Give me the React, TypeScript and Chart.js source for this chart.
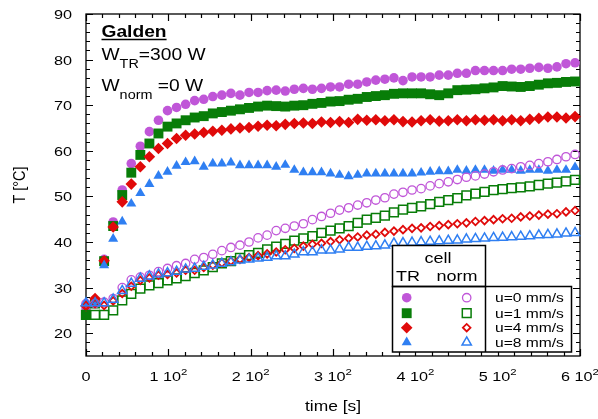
import React, { useEffect, useRef } from 'react';
import { Chart, registerables } from 'chart.js';

Chart.register(...registerables);

// ---------- data ----------
const times = [0, 11, 22, 33, 44, 55, 66, 77, 88, 99, 110, 121, 132, 143, 154, 165, 176, 187, 198, 209, 220, 231, 242, 253, 264, 275, 286, 297, 308, 319, 330, 341, 352, 363, 374, 385, 396, 407, 418, 429, 440, 451, 462, 473, 484, 495, 506, 517, 528, 539, 550, 561, 572, 583, 594];

const trU0 = [25.5, 27.0, 36.2, 44.4, 51.4, 57.2, 61.0, 64.2, 66.7, 68.8, 69.5, 70.2, 71.0, 71.3, 71.9,
  72.2, 72.6, 72.2, 72.8, 72.8, 73.2, 73.3, 73.1, 73.5, 73.7, 73.5, 73.7, 74.0, 74.0, 74.6, 74.6, 75.1, 75.5, 75.7,
  76.0, 75.4, 76.2, 76.2, 76.2, 76.6, 76.6, 77.0, 77.0, 77.6, 77.6, 77.6, 77.6, 77.9, 77.9, 78.1, 78.3, 78.1, 78.4, 79.1, 79.3];
const trU1 = [24.0, 26.5, 35.8, 43.5, 50.3, 55.2, 59.1, 61.6, 63.8, 65.3, 66.0, 66.7, 67.3, 67.6, 68.2,
  68.5, 68.8, 69.1, 69.4, 69.7, 69.9, 69.8, 69.7, 69.9, 70.0, 70.3, 70.5, 70.8, 70.9, 71.2, 71.4, 71.8, 72.0, 72.2, 72.5,
  72.6, 72.6, 72.6, 72.4, 72.2, 72.6, 73.3, 73.4, 73.5, 73.7, 73.9, 74.2, 74.1, 74.0, 74.2, 74.5, 74.8, 74.9, 75.1, 75.2];
const trU4 = [26.0, 27.6, 35.9, 43.3, 48.8, 52.7, 56.5, 58.7, 60.5, 61.6, 62.7, 63.4, 63.7, 64.0, 64.3,
  64.5, 64.8, 65.0, 65.1, 65.4, 65.6, 65.5, 65.8, 66.0, 66.1, 66.0, 66.3, 66.2, 66.4, 66.2, 66.9, 66.7, 66.8, 66.6, 66.8,
  66.4, 66.3, 66.6, 66.8, 66.5, 66.6, 66.8, 66.6, 66.8, 66.7, 66.8, 66.6, 66.8, 66.6, 66.9, 67.1, 67.4, 67.4, 67.2, 67.5];
const trU8 = [26.5, 26.4, 34.9, 40.7, 44.5, 48.4, 50.7, 52.7, 54.5, 55.4, 56.7, 57.5, 57.7, 56.5, 57.2,
  57.2, 57.4, 56.8, 56.8, 56.8, 56.8, 56.5, 56.9, 55.8, 55.3, 55.3, 55.3, 55.0, 54.7, 54.4, 54.7, 55.0, 55.0, 55.0, 55.0,
  55.0, 55.0, 55.2, 55.4, 55.5, 55.5, 55.8, 55.6, 55.8, 55.8, 55.6, 55.8, 55.8, 55.6, 55.8, 55.8, 55.6, 55.8, 55.8, 56.4];

const normU0 = [26.5, 26.5, 26.8, 27.6, 30.0, 31.7, 32.3, 32.7, 33.5, 34.2, 34.8, 35.3, 36.2,
  36.6, 37.3, 38.1, 38.8, 39.3, 40.0, 40.9, 41.5, 42.5, 43.0, 43.5, 44.0, 44.9, 45.6, 46.3, 47.0, 47.5, 48.1, 48.6, 49.2, 49.7, 50.5,
  50.9, 51.4, 51.7, 52.3, 52.8, 53.2, 53.7, 54.2, 54.5, 54.9, 55.4, 55.8, 56.1, 56.5, 56.8, 57.2, 57.6, 58.1, 58.7, 59.2];
const normU1 = [24.0, 24.0, 24.0, 25.0, 27.2, 28.6, 29.8, 30.5, 31.0, 31.6, 32.0, 32.5, 33.2,
  33.8, 34.5, 35.3, 35.8, 36.5, 37.1, 37.6, 38.4, 39.0, 39.6, 40.3, 40.8, 41.3, 42.0, 42.5, 43.0, 43.5, 44.2, 44.9, 45.3, 45.8, 46.5,
  47.1, 47.5, 47.8, 48.3, 48.8, 49.2, 49.6, 50.2, 50.6, 51.0, 51.4, 51.6, 51.8, 52.0, 52.2, 52.5, 52.8, 53.0, 53.3, 53.6];
const normU4 = [26.1, 26.5, 26.1, 27.1, 28.7, 30.3, 31.6, 32.1, 32.7, 32.9, 33.2, 33.8, 33.8,
  34.4, 34.9, 35.4, 35.8, 36.2, 36.6, 37.0, 37.4, 37.8, 38.3, 38.6, 39.1, 39.5, 39.7, 40.1, 40.5, 40.8, 41.1, 41.5, 41.7, 42.1, 42.4,
  42.7, 43.0, 43.1, 43.4, 43.6, 43.8, 44.0, 44.2, 44.5, 44.7, 44.9, 45.1, 45.2, 45.5, 45.7, 45.9, 46.1, 46.2, 46.6, 46.9];
const normU8 = [26.6, 26.6, 26.6, 27.4, 29.3, 30.9, 32.0, 32.5, 32.9, 33.2, 33.5, 34.0, 34.2, 34.6, 34.9,
  35.3, 35.6, 36.0, 36.2, 36.4, 36.6, 36.9, 36.9, 37.3, 37.8, 37.8, 38.2, 38.2, 38.4, 38.8, 38.8, 39.0, 39.1, 39.3, 39.7,
  39.8, 39.9, 40.0, 40.1, 40.2, 40.3, 40.4, 40.6, 40.7, 40.8, 40.9, 41.0, 41.1, 41.2, 41.3, 41.5, 41.6, 41.7, 41.9, 42.0];

const xTickValues = [0, 100, 200, 300, 400, 500, 600];
const xTickLabels = ['0', '1 10²', '2 10²', '3 10²', '4 10²', '5 10²', '6 10²'];
const yTickValues = [20, 30, 40, 50, 60, 70, 80, 90];
const yTickLabels = ['20', '30', '40', '50', '60', '70', '80', '90'];
const legendLabels = ['u=0 mm/s', 'u=1 mm/s', 'u=4 mm/s', 'u=8 mm/s'];

// ---------- styles ----------
const PURPLE = '#c056d8';
const GREEN = '#087d08';
const RED = '#e00a0a';
const BLUE = '#2f7ff2';
const FONT = '"Liberation Sans", Arial, Helvetica, sans-serif';
const SX = 1.2; // horizontal text stretch of the reference

type Mk = { style: string; r: number; color: string; filled: boolean; lw: number };
const trMarkers: Mk[] = [
  { style: 'circle', r: 4.8, color: PURPLE, filled: true, lw: 0 },
  { style: 'rect', r: 7, color: GREEN, filled: true, lw: 0 },
  { style: 'rectRot', r: 5.8, color: RED, filled: true, lw: 0 },
  { style: 'triangle', r: 5.8, color: BLUE, filled: true, lw: 0 },
];
const normMarkers: Mk[] = [
  { style: 'circle', r: 4.2, color: PURPLE, filled: false, lw: 1.3 },
  { style: 'rect', r: 6.2, color: GREEN, filled: false, lw: 1.5 },
  { style: 'rectRot', r: 3.8, color: RED, filled: false, lw: 1.8 },
  { style: 'triangle', r: 5.4, color: BLUE, filled: false, lw: 1.5 },
];

function drawMarker(ctx: CanvasRenderingContext2D, m: Mk, x: number, y: number) {
  const r = m.r;
  ctx.beginPath();
  if (m.style === 'circle') {
    ctx.arc(x, y, r, 0, Math.PI * 2);
  } else if (m.style === 'rect') {
    const s = r * Math.SQRT1_2;
    ctx.rect(x - s, y - s, 2 * s, 2 * s);
  } else if (m.style === 'rectRot') {
    ctx.moveTo(x - r, y);
    ctx.lineTo(x, y - r);
    ctx.lineTo(x + r, y);
    ctx.lineTo(x, y + r);
    ctx.closePath();
  } else {
    ctx.moveTo(x, y - r);
    ctx.lineTo(x + r * Math.sin((2 * Math.PI) / 3), y - r * Math.cos((2 * Math.PI) / 3));
    ctx.lineTo(x - r * Math.sin((2 * Math.PI) / 3), y - r * Math.cos((2 * Math.PI) / 3));
    ctx.closePath();
  }
  if (m.filled) {
    ctx.fillStyle = m.color;
    ctx.fill();
  } else {
    ctx.strokeStyle = m.color;
    ctx.lineWidth = m.lw;
    ctx.stroke();
  }
}

function text(ctx: CanvasRenderingContext2D, s: string, x: number, y: number, size: number, align: 'left' | 'center' | 'right' = 'left', bold = false) {
  ctx.save();
  ctx.font = `${bold ? 'bold ' : ''}${size}px ${FONT}`;
  const w = ctx.measureText(s).width * SX;
  let x0 = x;
  if (align === 'center') x0 = x - w / 2;
  if (align === 'right') x0 = x - w;
  ctx.translate(x0, y);
  ctx.scale(SX, 1);
  ctx.textAlign = 'left';
  ctx.textBaseline = 'alphabetic';
  ctx.fillStyle = '#000';
  ctx.fillText(s, 0, 0);
  ctx.restore();
  return w;
}

function width(ctx: CanvasRenderingContext2D, s: string, size: number, bold = false) {
  ctx.save();
  ctx.font = `${bold ? 'bold ' : ''}${size}px ${FONT}`;
  const w = ctx.measureText(s).width * SX;
  ctx.restore();
  return w;
}

const framePlugin = {
  id: 'frameTicks',
  beforeDatasetsDraw(chart: any) {
    const ctx: CanvasRenderingContext2D = chart.ctx;
    const { left, right, top, bottom } = chart.chartArea;
    const xs = chart.scales.x;
    const ys = chart.scales.y;
    ctx.save();
    ctx.strokeStyle = '#000';
    ctx.lineWidth = 1.3;
    ctx.strokeRect(left, top, right - left, bottom - top);
    ctx.lineWidth = 1.2;
    ctx.beginPath();
    for (let v = 0; v <= 600; v += 20) {
      const px = Math.round(xs.getPixelForValue(v)) + 0.5;
      const len = v % 100 === 0 ? 7 : 4;
      ctx.moveTo(px, bottom); ctx.lineTo(px, bottom - len);
      ctx.moveTo(px, top); ctx.lineTo(px, top + len);
    }
    for (let v = 16; v <= 90; v += 2) {
      const py = Math.round(ys.getPixelForValue(v)) + 0.5;
      const len = v % 10 === 0 ? 7 : 4;
      ctx.moveTo(left, py); ctx.lineTo(left + len, py);
      ctx.moveTo(right, py); ctx.lineTo(right - len, py);
    }
    ctx.stroke();
    ctx.restore();
  },
  afterDatasetsDraw(chart: any) {
    const ctx: CanvasRenderingContext2D = chart.ctx;
    const { left, right, top, bottom } = chart.chartArea;
    const xs = chart.scales.x;
    const ys = chart.scales.y;
    ctx.save();
    // y tick labels
    yTickValues.forEach((v, i) => {
      const py = ys.getPixelForValue(v);
      text(ctx, yTickLabels[i], left - 14, py + 5, 13.5, 'right');
    });
    // x tick labels (with superscript)
    xTickValues.forEach((v, i) => {
      const px = xs.getPixelForValue(v);
      const lab = xTickLabels[i];
      const baseY = bottom + 25;
      if (lab.endsWith('²')) {
        const base = lab.slice(0, -1);
        const wb = width(ctx, base, 13.5);
        const ws = width(ctx, '2', 9.5);
        const x0 = px - (wb + ws) / 2;
        text(ctx, base, x0, baseY, 13.5, 'left');
        text(ctx, '2', x0 + wb, baseY - 6, 9.5, 'left');
      } else {
        text(ctx, lab, px, baseY, 13.5, 'center');
      }
    });
    // axis titles
    text(ctx, 'time [s]', (left + right) / 2, 411, 14.5, 'center');
    ctx.save();
    ctx.translate(25, (top + bottom) / 2);
    ctx.rotate(-Math.PI / 2);
    ctx.font = `14.5px ${FONT}`;
    ctx.textAlign = 'center';
    ctx.textBaseline = 'alphabetic';
    ctx.fillStyle = '#000';
    ctx.scale(1, SX);
    ctx.fillText('T [°C]', 0, 0);
    ctx.restore();

    // annotation
    const gx = 101.5;
    const gw = text(ctx, 'Galden', gx, 37, 16, 'left', true);
    ctx.beginPath();
    ctx.lineWidth = 1.5;
    ctx.strokeStyle = '#000';
    ctx.moveTo(gx, 39.5); ctx.lineTo(gx + gw, 39.5);
    ctx.stroke();
    let w1 = text(ctx, 'W', gx, 60, 16);
    let w2 = text(ctx, 'TR', gx + w1, 68, 12);
    text(ctx, '=300 W', gx + w1 + w2, 60, 16);
    w1 = text(ctx, 'W', gx, 91, 16);
    w2 = text(ctx, 'norm', gx + w1, 98.5, 12);
    text(ctx, ' =0 W', gx + w1 + w2, 91, 16);

    // legend box
    const L = 392.5, M = 485.5, R = 571.5, T0 = 245.5, T1 = 286.5, B = 352;
    ctx.fillStyle = '#fff';
    ctx.fillRect(L, T0, M - L, T1 - T0);
    ctx.fillRect(L, T1, R - L, B - T1);
    ctx.strokeStyle = '#000';
    ctx.lineWidth = 1.5;
    ctx.strokeRect(L, T0, M - L, T1 - T0);
    ctx.strokeRect(L, T1, R - L, B - T1);
    ctx.beginPath();
    ctx.moveTo(M, T1); ctx.lineTo(M, B);
    ctx.stroke();
    text(ctx, 'cell', 438, 263, 15, 'center');
    text(ctx, 'TR', 408, 281, 15, 'center');
    text(ctx, 'norm', 457, 281, 15, 'center');
    const rows = [297.7, 313.2, 327.7, 342.3];
    rows.forEach((ry, i) => {
      drawMarker(ctx, trMarkers[i], 406.7, ry);
      drawMarker(ctx, normMarkers[i], 466.7, ry);
      text(ctx, legendLabels[i], 495, ry + 4.7, 13);
    });
    ctx.restore();
  },
};

function ds(label: string, values: number[], m: Mk, order: number) {
  return {
    label,
    data: values.map((v, i) => ({ x: times[i], y: v })),
    showLine: false,
    pointStyle: m.style,
    pointRadius: m.r,
    pointHoverRadius: m.r,
    pointBackgroundColor: m.filled ? m.color : 'rgba(0,0,0,0)',
    pointBorderColor: m.color,
    pointBorderWidth: m.filled ? 0 : m.lw,
    borderColor: m.color,
    backgroundColor: m.color,
    clip: false,
    order,
  };
}

export default function App() {
  const ref = useRef<HTMLCanvasElement>(null);
  useEffect(() => {
    const chart = new Chart(ref.current as HTMLCanvasElement, {
      type: 'line',
      data: {
        datasets: [
          ds('TR u=0', trU0, trMarkers[0], 8),
          ds('TR u=1', trU1, trMarkers[1], 7),
          ds('TR u=4', trU4, trMarkers[2], 6),
          ds('TR u=8', trU8, trMarkers[3], 5),
          ds('norm u=0', normU0, normMarkers[0], 4),
          ds('norm u=1', normU1, normMarkers[1], 3),
          ds('norm u=4', normU4, normMarkers[2], 2),
          ds('norm u=8', normU8, normMarkers[3], 1),
        ] as any,
      },
      options: {
        responsive: false,
        animation: false,
        devicePixelRatio: 1,
        layout: { padding: { left: 86, right: 18, top: 14, bottom: 63 } },
        scales: {
          x: { type: 'linear', min: 0, max: 600, display: false },
          y: { type: 'linear', min: 15, max: 90, display: false },
        },
        plugins: { legend: { display: false }, tooltip: { enabled: false } },
        events: [],
      } as any,
      plugins: [framePlugin],
    });
    return () => chart.destroy();
  }, []);
  return (
    <div style={{ position: 'absolute', left: 0, top: 0, width: 598, height: 419, background: '#fff' }}>
      <canvas ref={ref} width={598} height={419} style={{ display: 'block' }} />
    </div>
  );
}
